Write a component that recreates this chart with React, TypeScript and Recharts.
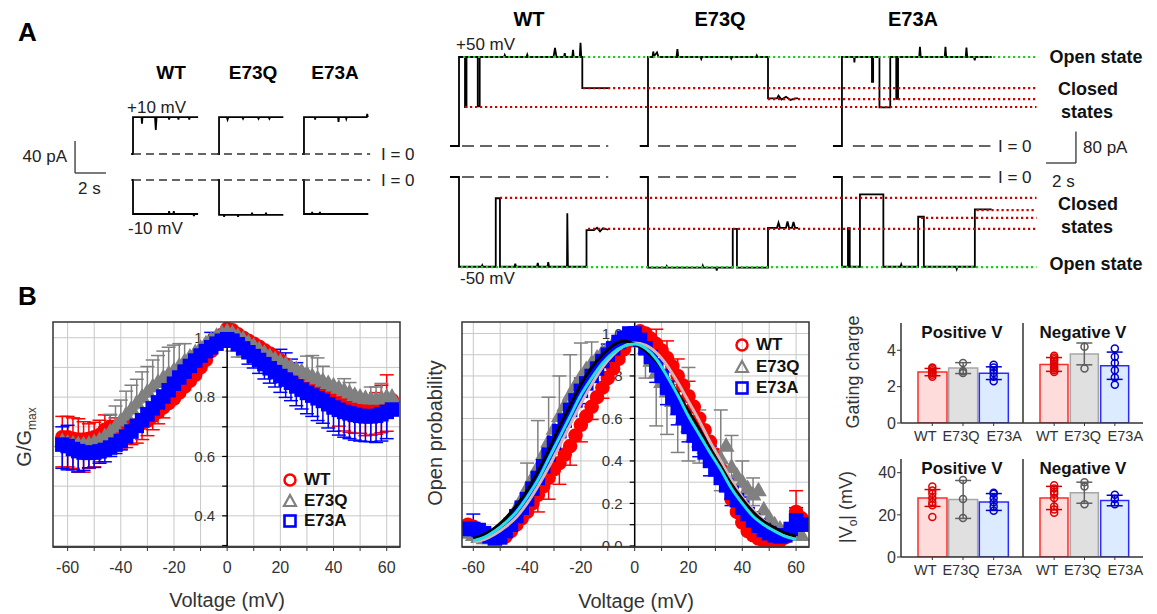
import React from 'react';
import {
  ComposedChart, Line, Scatter, XAxis, YAxis, ReferenceLine, ReferenceArea,
  CartesianGrid, ErrorBar, Bar, Cell,
} from 'recharts';

const FONT = '"Liberation Sans", Arial, Helvetica, sans-serif';
const RED = '#ff0000';
const GRAY = '#808080';
const BLUE = '#0000ff';
const GREEN = '#1fcc1f';
const DRED = '#cc0000';

type P = [number, number];

// ---------------- Panel A: traces (time in s, current in pA) ----------------
// ±10 mV traces
const wtPlus10: P[] = [[-0.12, 0], [0, 0], [0, 46], [0.55, 46], [0.58, 38], [0.61, 46], [1.42, 46], [1.47, 30], [1.52, 46], [2.3, 46], [2.33, 43], [2.36, 46], [2.9, 46], [2.93, 43], [2.96, 46], [3.6, 46], [3.63, 43], [3.66, 46], [4.2, 46]];
const qPlus10: P[] = [[-0.1, 0], [0, 0], [0, 46], [0.5, 46], [0.55, 43], [0.6, 46], [1.5, 46], [1.55, 44], [1.6, 46], [2.5, 46], [2.55, 44], [2.6, 46], [3.2, 46], [3.25, 44], [3.3, 46], [4.15, 46]];
const aPlus10: P[] = [[-0.12, 0], [0, 0], [0, 46], [0.7, 46], [0.72, 43], [0.75, 46], [2.2, 46], [2.23, 40], [2.26, 46], [2.7, 46], [2.73, 44], [2.76, 46], [4.05, 46], [4.08, 50], [4.12, 46]];
const wtMinus10: P[] = [[-0.1, 0], [0, 0], [0, -42.5], [2.3, -42.5], [2.33, -39], [2.36, -42.5], [2.6, -42.5], [2.63, -39], [2.66, -42.5], [3.9, -42.5], [3.93, -45], [3.96, -42.5], [4.2, -42.5]];
const qMinus10: P[] = [[-0.1, 0], [0, 0], [0, -43.5], [0.3, -43.5], [0.33, -46], [0.36, -43.5], [1.2, -43.5], [1.23, -46], [1.26, -43.5], [2.1, -43.5], [2.13, -41], [2.16, -43.5], [3.0, -43.5], [3.03, -41], [3.06, -43.5], [4.15, -43.5]];
const aMinus10: P[] = [[-0.1, 0], [0, 0], [0, -42.5], [0.5, -42.5], [0.53, -40], [0.56, -42.5], [1.0, -42.5], [1.03, -40], [1.06, -42.5], [4.15, -42.5]];

// ±50 mV traces
const wtPlus50: P[] = [[-0.6, 0], [0, 0], [0, 226], [0.4, 226], [0.4, 99], [0.5, 99], [0.5, 226], [1.25, 226], [1.25, 101], [1.38, 101], [1.38, 226], [3.0, 226], [3.05, 231], [3.1, 226], [4.5, 226], [4.55, 232], [4.6, 226], [6.3, 226], [6.4, 249], [6.5, 226], [7.0, 226], [7.05, 236], [7.1, 226], [7.55, 226], [7.6, 244], [7.65, 226], [8.05, 226], [8.1, 262], [8.15, 226], [8.22, 226], [8.22, 147], [9.95, 147]];
const qPlus50: P[] = [[-0.55, 0], [0, 0], [0, 226], [0.3, 226], [0.35, 240], [0.4, 228], [0.6, 238], [0.7, 226], [1.9, 226], [1.96, 246], [2.02, 226], [3.5, 226], [3.55, 221], [3.6, 226], [5.5, 226], [5.55, 222], [5.6, 226], [7.2, 226], [7.25, 230], [7.3, 226], [8.0, 226], [8.0, 121], [8.6, 121], [8.7, 128], [8.9, 118], [9.2, 125], [9.5, 117], [9.8, 121], [10.0, 121]];
const aPlus50: P[] = [[-0.6, 0], [0, 0], [0, 226], [0.8, 226], [0.83, 212], [0.86, 226], [2.0, 226], [2.0, 163], [2.08, 163], [2.08, 226], [2.5, 226], [2.5, 98], [3.22, 98], [3.22, 226], [3.62, 226], [3.62, 120], [3.74, 120], [3.74, 226], [5.15, 226], [5.2, 252], [5.25, 226], [6.85, 226], [6.9, 252], [6.95, 226], [8.25, 226], [8.3, 250], [8.35, 226], [8.8, 226], [8.85, 218], [8.9, 226], [9.98, 226]];
const wtMinus50: P[] = [[-0.6, 0], [0, 0], [0, -228], [1.5, -228], [1.55, -224], [1.6, -228], [2.45, -228], [2.45, -54], [2.73, -54], [2.73, -228], [3.7, -228], [3.75, -220], [3.8, -228], [5.2, -228], [5.25, -218], [5.3, -228], [5.9, -228], [5.95, -216], [6.0, -228], [7.2, -228], [7.22, -92], [7.26, -228], [8.5, -228], [8.5, -135], [9.0, -135], [9.2, -129], [9.4, -138], [9.6, -130], [9.95, -134]];
const qMinus50: P[] = [[-0.55, 0], [0, 0], [0, -230], [1.2, -230], [1.25, -226], [1.3, -230], [3.6, -230], [3.65, -225], [3.7, -230], [4.55, -230], [4.58, -238], [4.62, -230], [5.65, -230], [5.65, -132], [5.93, -132], [5.93, -230], [8.0, -230], [8.0, -129], [8.6, -129], [8.7, -116], [8.8, -129], [9.2, -129], [9.3, -113], [9.4, -129], [9.6, -129], [9.7, -114], [9.8, -129], [10.0, -129]];
const aMinus50: P[] = [[-0.6, 0], [0, 0], [0, -228], [0.4, -228], [0.4, -130], [0.52, -130], [0.52, -228], [1.2, -228], [1.2, -44], [2.76, -44], [2.76, -228], [3.9, -228], [3.95, -222], [4.0, -228], [5.08, -228], [5.08, -101], [5.46, -101], [5.46, -228], [7.6, -228], [7.65, -234], [7.7, -228], [8.86, -228], [8.86, -82], [9.98, -82]];

// column start times (s) within each row chart
const A_LEFT_OFFSETS = [0, 5.55, 11.03];
const A_RIGHT_OFFSETS = [0, 12.6, 25.53];
// current levels (pA) and the time where each dotted guide starts
const levelsPlus50 = [{ pA: 226, from: 0.27, open: true }, { pA: 147, from: 8.27 }, { pA: 119, from: 20.6 }, { pA: 99, from: 0.4 }];
const levelsMinus50 = [{ pA: -229, from: 0.13, open: true }, { pA: -53, from: 2.73 }, { pA: -132, from: 8.6 }, { pA: -84, from: 34.5 }, { pA: -104, from: 30.8 }];
const LEVEL_END = 38.5;
const zeroSpans = [[0.2, 9.95], [0.67, 10.0], [0.73, 9.9]];

// ---------------- Panel B data ----------------
const V = [-62, -60, -58, -56, -54, -52, -50, -48, -46, -44, -42, -40, -38, -36, -34, -32, -30, -28, -26, -24, -22, -20, -18, -16, -14, -12, -10, -8, -6, -4, -2, 0, 2, 4, 6, 8, 10, 12, 14, 16, 18, 20, 22, 24, 26, 28, 30, 32, 34, 36, 38, 40, 42, 44, 46, 48, 50, 52, 54, 56, 58, 60, 62];

const gWT = [.665, .665, .66, .657, .657, .66, .665, .672, .69, .70, .70, .695, .695, .70, .705, .712, .72, .735, .75, .765, .78, .795, .815, .835, .855, .875, .90, .925, .955, .985, 1.01, 1.03, 1.025, 1.012, 1.0, .99, .98, .97, .958, .947, .935, .924, .91, .895, .88, .865, .85, .836, .822, .81, .80, .79, .782, .776, .771, .768, .768, .77, .772, .775, .78, .785, .79];
const gQ = [.65, .645, .642, .64, .64, .642, .647, .655, .667, .682, .70, .72, .74, .76, .78, .80, .818, .835, .85, .865, .878, .89, .905, .92, .935, .95, .965, .98, .992, 1.005, 1.015, 1.02, 1.015, 1.005, .995, .983, .972, .96, .948, .937, .927, .918, .91, .902, .894, .886, .878, .87, .862, .854, .846, .838, .83, .822, .814, .806, .80, .796, .794, .794, .796, .80, .80];
const gA = [.64, .635, .625, .618, .613, .612, .613, .617, .622, .63, .64, .652, .667, .684, .703, .722, .742, .762, .782, .802, .823, .845, .866, .886, .905, .923, .94, .955, .968, .98, .99, .995, .99, .978, .964, .951, .938, .925, .911, .897, .884, .871, .859, .848, .836, .825, .814, .805, .796, .787, .776, .765, .757, .75, .745, .74, .737, .735, .735, .737, .742, .75, .758];

const gErrWT: number[][] = [[-62, .1, .07], [-60, .1, .07], [-58, .1, .07], [-56, .11, .07], [-54, .11, .06], [-52, .1, .05], [-50, .1, .05], [-48, .09, .05], [-46, .08, .05], [-44, .075, .04], [-42, .07, .03], [-40, .07, .02], [-38, .065, .02], [-36, .06, .02], [-34, .06, .02], [-32, .055, .02], [-30, .05, .02], [-28, .045, .02], [-26, .04, .02], [-24, .035, .02], [42, .08, .02], [44, .09, .02], [46, .09, .02], [48, .09, .02], [50, .09, .02], [52, .1, .02], [54, .1, .03], [56, .1, .04], [58, .1, .06], [60, .1, .09]];
const gErrQ: number[][] = [[-44, 0, .06], [-42, 0, .07], [-40, 0, .07], [-38, 0, .08], [-36, 0, .08], [-34, 0, .08], [-32, 0, .085], [-30, 0, .085], [-28, 0, .09], [-26, 0, .09], [-24, 0, .09], [-22, 0, .09], [-20, 0, .085], [-18, 0, .075], [-16, 0, .06], [2, .06, 0], [4, .07, 0], [6, .06, 0], [30, 0, .06], [32, 0, .07], [34, 0, .07], [36, 0, .05], [44, 0, .04], [46, 0, .035], [54, 0, .04], [56, 0, .04], [58, 0, .05]];
const gErrA: number[][] = [[-62, .08, .06], [-60, .08, .07], [-58, .07, .03], [-56, .07, .02], [-54, .06, .02], [-52, .05, .02], [-50, .05, .02], [-48, .04, .02], [-46, .04, .02], [-44, .03, .02], [-42, .03, .02], [-40, .03, .02], [-6, 0, .05], [8, .04, 0], [10, .04, 0], [12, .045, 0], [14, .05, 0], [16, .05, 0], [18, .05, 0], [20, .055, .09], [22, .06, .09], [24, .06, .08], [26, .065, .08], [28, .065, .07], [30, .07, 0], [32, .07, 0], [34, .075, 0], [36, .075, 0], [38, .08, 0], [40, .08, 0], [42, .085, 0], [44, .085, 0], [46, .085, 0], [48, .085, 0], [50, .085, 0], [52, .085, 0], [54, .085, 0], [56, .09, 0], [58, .09, 0], [60, .09, 0]];

const pWT = [.10, .09, .07, .055, .045, .04, .04, .045, .07, .10, .13, .16, .20, .24, .28, .32, .36, .39, .43, .47, .52, .57, .61, .655, .70, .745, .79, .835, .88, .925, .965, 1.0, 1.01, 1.0, .975, .95, .92, .885, .845, .80, .755, .705, .655, .60, .545, .49, .43, .36, .29, .22, .16, .11, .07, .05, .035, .025, .02, .02, .025, .04, .07, .16, .13];
const pQ = [.06, .05, .04, .035, .035, .04, .06, .09, .13, .175, .22, .27, .32, .37, .43, .49, .55, .61, .66, .71, .755, .795, .83, .86, .885, .91, .93, .95, .965, .975, .98, .98, .96, .93, .87, .815, .77, .725, .68, .64, .60, .56, .52, .49, .46, .44, .42, .41, .47, .37, .33, .30, .27, .24, .26, .17, .13, .10, .08, .07, .06, .05, .05];
const pA = [.08, .08, .075, .06, .045, .035, .04, .07, .10, .14, .18, .22, .27, .32, .375, .43, .485, .54, .59, .64, .685, .73, .765, .80, .835, .87, .90, .93, .96, .98, 1.0, 1.0, .97, .93, .89, .85, .80, .745, .695, .65, .605, .56, .52, .48, .44, .40, .36, .32, .285, .25, .215, .18, .15, .12, .095, .075, .06, .05, .045, .05, .08, .12, .10];

const pErrWT: number[][] = [[-36, .08, 0], [-32, .1, 0], [-28, .1, 0], [-24, .09, 0], [-20, .08, 0], [-16, .06, 0], [-12, .05, 0], [8, 0, .07], [12, 0, .08], [16, 0, .08], [20, 0, .07], [60, .05, .1]];
const pErrQ: number[][] = [[-40, .08, .12], [-36, .1, .22], [-32, .1, .21], [-28, .08, .19], [-24, .08, .19], [-20, .06, .16], [-16, .05, .1], [4, .14, .05], [8, .25, .1], [12, .2, .1], [16, .2, .12], [20, .16, .28], [24, .1, .15], [32, .15, .23], [36, .08, .15], [40, .06, .1], [44, .05, .08]];
const pErrA: number[][] = [[-60, .03, .07], [-20, .06, .06], [-10, .05, .05], [8, .08, .08], [12, .08, .08], [16, .08, .08], [20, .07, .07], [24, .06, .06], [28, .07, .07], [36, .06, .06], [40, .05, .05], [44, .04, .04], [48, .03, .04], [60, .03, .06]];

// fitted curves
const VF = [-60, -56, -52, -48, -44, -40, -36, -32, -28, -24, -20, -16, -12, -8, -4, 0, 4, 8, 12, 16, 20, 24, 28, 32, 36, 40, 44, 48, 52, 56, 60];
const fitPink = [.02, .03, .055, .09, .135, .20, .28, .37, .47, .57, .67, .76, .84, .90, .94, .955, .945, .91, .85, .77, .68, .59, .49, .40, .31, .23, .17, .12, .08, .055, .04];
const fitBlack = [.035, .055, .085, .13, .19, .26, .35, .45, .56, .66, .76, .84, .90, .945, .965, .95, .92, .87, .80, .72, .635, .55, .46, .375, .29, .22, .16, .115, .085, .06, .045];
const fitCyan = [.025, .04, .07, .11, .16, .23, .31, .41, .51, .61, .71, .79, .86, .91, .94, .95, .93, .88, .80, .71, .61, .525, .44, .36, .27, .20, .14, .10, .07, .045, .03];

const X_TICKS = [-60, -50, -40, -30, -20, -10, 0, 10, 20, 30, 40, 50, 60];
const G_TICKS = [0.3, 0.4, 0.5, 0.6, 0.7, 0.8, 0.9, 1.0];
const G_LABELED = [0.4, 0.6, 0.8, 1.0];
const P_TICKS = [0, 0.1, 0.2, 0.3, 0.4, 0.5, 0.6, 0.7, 0.8, 0.9, 1.0];
const P_LABELED = [0, 0.2, 0.4, 0.6, 0.8, 1.0];

// bar panels
const CATS = ['WT', 'E73Q', 'E73A'];
const gcPosMean = [2.8, 3.02, 2.74];
const gcPosSd = [0.2, 0.3, 0.35];
const gcPosPts = [[2.55, 2.65, 2.75, 2.8, 2.9, 3.0, 3.05], [2.75, 2.85, 3.3], [2.3, 2.55, 2.75, 2.9, 3.05, 3.2]];
const gcNegMean = [3.22, 3.8, 3.15];
const gcNegSd = [0.38, 0.6, 0.75];
const gcNegPts = [[2.8, 2.9, 3.0, 3.1, 3.25, 3.4, 3.5, 3.6, 3.7], [3.0, 4.2], [2.1, 2.5, 2.9, 3.3, 3.65, 4.1]];
const voPosMean = [28, 27.3, 26.1];
const voPosSd = [4, 9, 4];
const voPosPts = [[19, 24.5, 26, 28, 30, 31.5, 33.5], [18.5, 27.5, 36.5], [22, 24, 26, 28, 30, 30.5]];
const voNegMean = [28, 30.5, 26.8];
const voNegSd = [5.5, 5, 2.5];
const voNegPts = [[21, 22.5, 24, 28, 30, 31, 32.5, 34], [25, 33.5, 35.5], [25, 27.5, 29.5]];

const BAR_FILL = ['#ffdcdc', '#e0e0e0', '#dcebff'];
const BAR_STROKE = ['#ff2a2a', '#a6a6a6', '#2b2bff'];
const PT_COLOR = ['#e00000', '#5a5a5a', '#0000d0'];
const ERR_COLOR = ['#d00000', '#606060', '#0000c0'];
const PT_KEYS = ['p0', 'p1', 'p2', 'p3', 'p4', 'p5', 'p6', 'p7', 'p8'];
const LABEL_SHIFT = [-7, -2, 10.5];

// ---------------- helpers ----------------
const toPts = (arr: P[], off: number) => arr.map(([t, i]) => ({ t: t + off, i }));
const series = (vals: number[]) => V.map((v, k) => ({ v, y: vals[k] }));
const errSeries = (vals: number[], errs: number[][]) =>
  errs.map((e) => ({ v: e[0], y: vals[V.indexOf(e[0])], e: [e[1], e[2]] }));
const fitSeries = (vals: number[]) => VF.map((v, k) => ({ v, y: vals[k] }));
const tickMarks = (ticks: number[], labeled: number[]) =>
  ticks.map((y) => ({ v: 0, y, l: labeled.includes(y) ? y.toFixed(1) : '' }));
const barRows = (means: number[], sds: number[], pts: number[][]) =>
  CATS.map((c, i) => {
    const r: any = { name: c, mean: means[i] };
    r['e' + i] = [sds[i], sds[i]];
    pts[i].forEach((p, j) => { r['p' + j] = p; });
    return r;
  });

type Seg = { x1: number; y1: number; x2: number; y2: number; stroke: string; dash?: string; w: number };

function Txt({ x, y, s = 17, b = false, a = 'middle', c = '#222', rot = false, children }: any) {
  const tx = a === 'middle' ? '-50%' : a === 'end' ? '-100%' : '0';
  return (
    <div style={{
      position: 'absolute', left: x, top: y, transform: `translate(${tx}, -50%)${rot ? ' rotate(-90deg)' : ''}`,
      fontSize: s, fontWeight: b ? 700 : 400, color: c, whiteSpace: 'nowrap', lineHeight: 1, fontFamily: FONT,
    }}>{children}</div>
  );
}

function TraceChart({ left, top, width, height, xDomain, yDomain, traces, segs }: any) {
  return (
    <div style={{ position: 'absolute', left, top, width, height }}>
      <ComposedChart width={width} height={height} margin={{ top: 0, right: 0, bottom: 0, left: 0 }}>
        <XAxis type="number" dataKey="t" domain={xDomain} allowDataOverflow hide />
        <YAxis type="number" domain={yDomain} allowDataOverflow hide width={0} />
        {traces.map((d: any, k: number) => (
          <Line key={'tr' + k} data={d} dataKey="i" type="linear" stroke="#000" strokeWidth={1.8}
            dot={false} activeDot={false} isAnimationActive={false} />
        ))}
        {segs.map((s: Seg, k: number) => (
          <ReferenceLine key={'sg' + k} segment={[{ x: s.x1, y: s.y1 }, { x: s.x2, y: s.y2 }]}
            stroke={s.stroke} strokeWidth={s.w} strokeDasharray={s.dash} ifOverflow="visible" zIndex={900} />
        ))}
      </ComposedChart>
    </div>
  );
}

const tickShape = (props: any) => {
  const { cx, cy, payload } = props;
  if (cx == null || cy == null) return <g />;
  return (
    <g>
      <line x1={cx - 5} x2={cx} y1={cy} y2={cy} stroke="#000" strokeWidth={1.2} />
      {payload.l ? (
        <text x={cx - 12} y={cy} dy="0.36em" textAnchor="end" fontSize={15} fill="#333">{payload.l}</text>
      ) : null}
    </g>
  );
};
const noShape = () => <g />;
const circ = (c: string, r: number) => (p: any) =>
  p.cx == null ? <g /> : <circle cx={p.cx} cy={p.cy} r={r} fill={c} stroke={c} strokeWidth={1.5} />;
const tri = (c: string, s: number) => (p: any) =>
  p.cx == null ? <g /> : (
    <path d={`M${p.cx},${p.cy - s} L${p.cx + s * 0.95},${p.cy + s * 0.65} L${p.cx - s * 0.95},${p.cy + s * 0.65} Z`}
      fill={c} stroke={c} strokeWidth={1.5} />
  );
const sq = (c: string, s: number) => (p: any) =>
  p.cx == null ? <g /> : <rect x={p.cx - s} y={p.cy - s} width={2 * s} height={2 * s} fill={c} stroke={c} strokeWidth={1.5} />;

const AX = { stroke: '#333', strokeWidth: 1.5 };

function VoltageChart({ left, xDomain, yDomain, yTicks, yLabeled, data, errs, fits, ms }: any) {
  return (
    <div style={{ position: 'absolute', left, top: 310 }}>
      <ComposedChart width={365} height={267} margin={{ top: 12, right: 6, bottom: 0, left: 12 }}>
        <CartesianGrid stroke="#c8c8c8" strokeWidth={1} horizontalValues={yTicks} verticalValues={X_TICKS} />
        <XAxis type="number" dataKey="v" domain={xDomain} ticks={X_TICKS} interval={0}
          tickFormatter={(v: number) => (v % 20 === 0 ? String(v) : '')} allowDataOverflow height={30}
          tickSize={4} tickMargin={11} tick={{ fontSize: 16, fill: '#333' }} axisLine={AX} tickLine={{ stroke: '#333' }} />
        <YAxis type="number" domain={yDomain} ticks={yTicks} interval={0} width={0} tickFormatter={() => ''}
          tickLine={false} axisLine={false} allowDataOverflow />
        <Scatter data={tickMarks(yTicks, yLabeled)} dataKey="y" shape={tickShape} isAnimationActive={false} zIndex={450} />
        <ReferenceLine x={0} stroke="#000" strokeWidth={1.5} zIndex={460} />
        <Scatter data={errs[0]} dataKey="y" shape={noShape} isAnimationActive={false}>
          <ErrorBar dataKey="e" direction="y" stroke={RED} width={7} strokeWidth={1.5} />
        </Scatter>
        <Scatter data={data[0]} dataKey="y" shape={circ(RED, ms)} isAnimationActive={false} />
        <Scatter data={errs[1]} dataKey="y" shape={noShape} isAnimationActive={false}>
          <ErrorBar dataKey="e" direction="y" stroke={GRAY} width={7} strokeWidth={1.5} />
        </Scatter>
        <Scatter data={data[1]} dataKey="y" shape={tri(GRAY, ms + 1)} isAnimationActive={false} />
        <Scatter data={errs[2]} dataKey="y" shape={noShape} isAnimationActive={false}>
          <ErrorBar dataKey="e" direction="y" stroke={BLUE} width={7} strokeWidth={1.5} />
        </Scatter>
        <Scatter data={data[2]} dataKey="y" shape={sq(BLUE, ms)} isAnimationActive={false} />
        {fits ? fits.map((f: any, k: number) => (
          <Line key={'fit' + k} data={f.d} dataKey="y" type="monotone" stroke={f.c} strokeWidth={3}
            dot={false} activeDot={false} isAnimationActive={false} zIndex={700} />
        )) : null}
        <ReferenceArea x1={xDomain[0]} x2={xDomain[1]} y1={yDomain[0]} y2={yDomain[1]} fill="none"
          stroke="#333" strokeWidth={1.5} ifOverflow="visible" zIndex={800} />
      </ComposedChart>
    </div>
  );
}

function LegendMarks({ x, y, gap }: any) {
  const items = [
    { label: 'WT', kind: 'c', color: RED },
    { label: 'E73Q', kind: 't', color: GRAY },
    { label: 'E73A', kind: 's', color: BLUE },
  ];
  return (
    <>
      {items.map((it, k) => (
        <div key={it.label} style={{ position: 'absolute', left: x - 8, top: y + k * gap - 8, display: 'flex', alignItems: 'center' }}>
          <svg width={16} height={16}>
            {it.kind === 'c' && <circle cx={8} cy={8} r={5.5} fill="none" stroke={it.color} strokeWidth={2.5} />}
            {it.kind === 't' && <path d="M8,2 L14,13 L2,13 Z" fill="none" stroke={it.color} strokeWidth={2.2} />}
            {it.kind === 's' && <rect x={2.5} y={2.5} width={11} height={11} fill="none" stroke={it.color} strokeWidth={2.6} />}
          </svg>
          <span style={{ marginLeft: 6, fontSize: 17, fontWeight: 700, fontFamily: FONT, color: '#111', lineHeight: '16px' }}>{it.label}</span>
        </div>
      ))}
    </>
  );
}

const ptDot = (props: any) => {
  const { cx, cy, payload, index } = props;
  if (cx == null || cy == null || Number.isNaN(cy)) return <g key={'d' + index} />;
  const c = PT_COLOR[CATS.indexOf(payload.name)];
  return <circle key={'d' + index} cx={cx} cy={cy} r={3.5} fill="none" stroke={c} strokeWidth={1.5} />;
};

const catTick = (props: any) => {
  const { x, y, payload } = props;
  const k = CATS.indexOf(payload.value);
  return (
    <text x={x + (LABEL_SHIFT[k] || 0)} y={y} dy="0.71em" textAnchor="middle" fontSize={14.5} fill="#333">{payload.value}</text>
  );
};

function BarPanel({ left, top, width, height, rows, domain, ticks, yWidth, labels, padL, padR, mr }: any) {
  return (
    <div style={{ position: 'absolute', left, top }}>
      <ComposedChart width={width} height={height} data={rows} margin={{ top: 5, right: mr, bottom: 0, left: 0 }} barCategoryGap={1}>
        <XAxis dataKey="name" type="category" interval={0} height={25} tickLine={{ stroke: '#333' }} tickSize={3} tickMargin={5}
          padding={{ left: padL, right: padR }} axisLine={AX} tick={catTick} />
        <XAxis xAxisId="top" orientation="top" dataKey="name" height={0} tick={false} tickLine={false} axisLine={AX} />
        <YAxis type="number" domain={domain} ticks={ticks} width={yWidth} tickSize={4} tickMargin={1}
          tick={labels ? { fontSize: 16, fill: '#333' } : false} tickLine={{ stroke: '#333' }} axisLine={AX} allowDataOverflow />
        <YAxis yAxisId="r" orientation="right" type="number" domain={[0, 1]} width={0} tick={false} tickLine={false} axisLine={AX} />
        <Bar dataKey="mean" isAnimationActive={false}>
          {CATS.map((c, i) => <Cell key={c} fill={BAR_FILL[i]} stroke={BAR_STROKE[i]} strokeWidth={1.5} />)}
          <ErrorBar dataKey="e0" direction="y" stroke={ERR_COLOR[0]} width={8} strokeWidth={1.5} />
          <ErrorBar dataKey="e1" direction="y" stroke={ERR_COLOR[1]} width={8} strokeWidth={1.5} />
          <ErrorBar dataKey="e2" direction="y" stroke={ERR_COLOR[2]} width={8} strokeWidth={1.5} />
        </Bar>
        {PT_KEYS.map((k) => (
          <Line key={k} dataKey={k} stroke="none" dot={ptDot} activeDot={false} isAnimationActive={false} legendType="none" />
        ))}
      </ComposedChart>
    </div>
  );
}

export default function App() {
  // Panel A segments
  const leftTopSegs: Seg[] = [
    { x1: 0, y1: 0, x2: 15.3, y2: 0, stroke: '#333', dash: '8 5', w: 1.3 },
    { x1: -3.74, y1: 16.25, x2: -3.74, y2: -23.75, stroke: '#333', w: 1.3 },
    { x1: -3.74, y1: -23.75, x2: -1.74, y2: -23.75, stroke: '#333', w: 1.3 },
  ];
  const leftBotSegs: Seg[] = [{ x1: 0, y1: 0, x2: 15.3, y2: 0, stroke: '#333', dash: '8 5', w: 1.3 }];
  const zeroSegs: Seg[] = zeroSpans.map(([a, b], k) => ({
    x1: a + A_RIGHT_OFFSETS[k], y1: 0, x2: b + A_RIGHT_OFFSETS[k], y2: 0, stroke: '#333', dash: '12 6', w: 1.3,
  }));
  const levelSegs = (lv: any[]): Seg[] => lv.map((l) => ({
    x1: l.from, y1: l.pA, x2: LEVEL_END, y2: l.pA, stroke: l.open ? GREEN : DRED, dash: '2.2 2.8', w: 2.2,
  }));
  const rightTopSegs: Seg[] = [
    ...zeroSegs, ...levelSegs(levelsPlus50),
    { x1: 41.13, y1: 36.8, x2: 41.13, y2: -43.2, stroke: '#333', w: 1.3 },
    { x1: 39.13, y1: -43.2, x2: 41.13, y2: -43.2, stroke: '#333', w: 1.3 },
  ];
  const rightBotSegs: Seg[] = [...zeroSegs, ...levelSegs(levelsMinus50)];

  const gData = [series(gWT), series(gQ), series(gA)];
  const gErr = [errSeries(gWT, gErrWT), errSeries(gQ, gErrQ), errSeries(gA, gErrA)];
  const pData = [series(pWT), series(pQ), series(pA)];
  const pErr = [errSeries(pWT, pErrWT), errSeries(pQ, pErrQ), errSeries(pA, pErrA)];
  const fits = [
    { d: fitSeries(fitPink), c: '#d8b4b4' },
    { d: fitSeries(fitBlack), c: '#000000' },
    { d: fitSeries(fitCyan), c: '#22e0e6' },
  ];

  return (
    <div style={{ position: 'absolute', left: 0, top: 0, width: 1157, height: 614, background: '#fff', overflow: 'hidden', fontFamily: FONT }}>
      {/* ---------- Panel A ---------- */}
      <Txt x={18} y={32} s={26} b a="start" c="#000">A</Txt>
      <Txt x={171} y={72} s={19} b c="#000">WT</Txt>
      <Txt x={253} y={72} s={19} b c="#000">E73Q</Txt>
      <Txt x={335} y={72} s={19} b c="#000">E73A</Txt>
      <Txt x={127} y={107} a="start">+10 mV</Txt>
      <Txt x={128} y={228} a="start">-10 mV</Txt>
      <Txt x={67} y={156} a="end">40 pA</Txt>
      <Txt x={78} y={188} a="start">2 s</Txt>
      <Txt x={381} y={154} a="start">I = 0</Txt>
      <Txt x={381} y={180} a="start">I = 0</Txt>

      <TraceChart left={60} top={95} width={320} height={80} xDomain={[-4.71, 15.935]} yDomain={[-26.25, 73.75]}
        traces={[toPts(wtPlus10, A_LEFT_OFFSETS[0]), toPts(qPlus10, A_LEFT_OFFSETS[1]), toPts(aPlus10, A_LEFT_OFFSETS[2])]}
        segs={leftTopSegs} />
      <TraceChart left={60} top={165} width={320} height={60} xDomain={[-4.71, 15.935]} yDomain={[-56.25, 18.75]}
        traces={[toPts(wtMinus10, A_LEFT_OFFSETS[0]), toPts(qMinus10, A_LEFT_OFFSETS[1]), toPts(aMinus10, A_LEFT_OFFSETS[2])]}
        segs={leftBotSegs} />

      <Txt x={529} y={19} s={20} b c="#000">WT</Txt>
      <Txt x={720} y={19} s={20} b c="#000">E73Q</Txt>
      <Txt x={913} y={19} s={20} b c="#000">E73A</Txt>
      <Txt x={456} y={44} a="start">+50 mV</Txt>
      <Txt x={460} y={278} a="start">-50 mV</Txt>
      <Txt x={998} y={146} a="start">I = 0</Txt>
      <Txt x={998} y={177} a="start">I = 0</Txt>
      <Txt x={1083} y={147} a="start">80 pA</Txt>
      <Txt x={1052} y={181} a="start">2 s</Txt>
      <Txt x={1096} y={57} s={18} b c="#111">Open state</Txt>
      <Txt x={1088} y={89} s={18} b c="#111">Closed</Txt>
      <Txt x={1087} y={112} s={18} b c="#111">states</Txt>
      <Txt x={1088} y={204} s={18} b c="#111">Closed</Txt>
      <Txt x={1087} y={227} s={18} b c="#111">states</Txt>
      <Txt x={1096} y={264} s={18} b c="#111">Open state</Txt>

      <TraceChart left={440} top={25} width={660} height={150} xDomain={[-1.267, 42.733]} yDomain={[-73.66, 307.34]}
        traces={[toPts(wtPlus50, A_RIGHT_OFFSETS[0]), toPts(qPlus50, A_RIGHT_OFFSETS[1]), toPts(aPlus50, A_RIGHT_OFFSETS[2])]}
        segs={rightTopSegs} />
      <TraceChart left={440} top={160} width={660} height={135} xDomain={[-1.267, 42.733]} yDomain={[-299.72, 43.18]}
        traces={[toPts(wtMinus50, A_RIGHT_OFFSETS[0]), toPts(qMinus50, A_RIGHT_OFFSETS[1]), toPts(aMinus50, A_RIGHT_OFFSETS[2])]}
        segs={rightBotSegs} />

      {/* ---------- Panel B ---------- */}
      <Txt x={18} y={296} s={26} b a="start" c="#000">B</Txt>

      <VoltageChart left={41} xDomain={[-65.5, 65]} yDomain={[0.295, 1.053]} yTicks={G_TICKS} yLabeled={G_LABELED}
        data={gData} errs={gErr} ms={6.5} />
      <Txt x={26} y={437} s={20} rot c="#333">G/G<sub style={{ fontSize: 12, verticalAlign: '-0.35em' }}>max</sub></Txt>
      <Txt x={227} y={600} s={20} c="#333">Voltage (mV)</Txt>
      <LegendMarks x={290} y={480} gap={20.5} />

      <VoltageChart left={450} xDomain={[-64.2, 64.8]} yDomain={[-0.005, 1.054]} yTicks={P_TICKS} yLabeled={P_LABELED}
        data={pData} errs={pErr} fits={fits} ms={6.5} />
      <Txt x={435} y={433} s={20} rot c="#333">Open probability</Txt>
      <Txt x={636} y={601} s={20} c="#333">Voltage (mV)</Txt>
      <LegendMarks x={742} y={345} gap={21.5} />

      <BarPanel left={870} top={318} width={153} height={130} rows={barRows(gcPosMean, gcPosSd, gcPosPts)}
        domain={[0, 5.5]} ticks={[0, 2, 4]} yWidth={31} labels padL={16} padR={14} mr={0} />
      <BarPanel left={1013} top={318} width={144} height={130} rows={barRows(gcNegMean, gcNegSd, gcNegPts)}
        domain={[0, 5.5]} ticks={[0, 1, 2, 3, 4, 5]} yWidth={10} labels={false} padL={16} padR={13} mr={14} />
      <BarPanel left={870} top={454} width={153} height={128} rows={barRows(voPosMean, voPosSd, voPosPts)}
        domain={[0, 46.5]} ticks={[0, 20, 40]} yWidth={31} labels padL={16} padR={14} mr={0} />
      <BarPanel left={1013} top={454} width={144} height={128} rows={barRows(voNegMean, voNegSd, voNegPts)}
        domain={[0, 46.5]} ticks={[0, 10, 20, 30, 40]} yWidth={10} labels={false} padL={16} padR={13} mr={14} />
      <Txt x={962} y={332} s={17} b c="#111">Positive V</Txt>
      <Txt x={1083} y={332} s={17} b c="#111">Negative V</Txt>
      <Txt x={962} y={468} s={17} b c="#111">Positive V</Txt>
      <Txt x={1083} y={468} s={17} b c="#111">Negative V</Txt>
      <Txt x={853} y={372} s={18} rot c="#333">Gating charge</Txt>
      <Txt x={848} y={507} s={18} rot c="#333">|V<sub style={{ fontSize: 12, verticalAlign: '-0.35em' }}>o</sub>| (mV)</Txt>
    </div>
  );
}
